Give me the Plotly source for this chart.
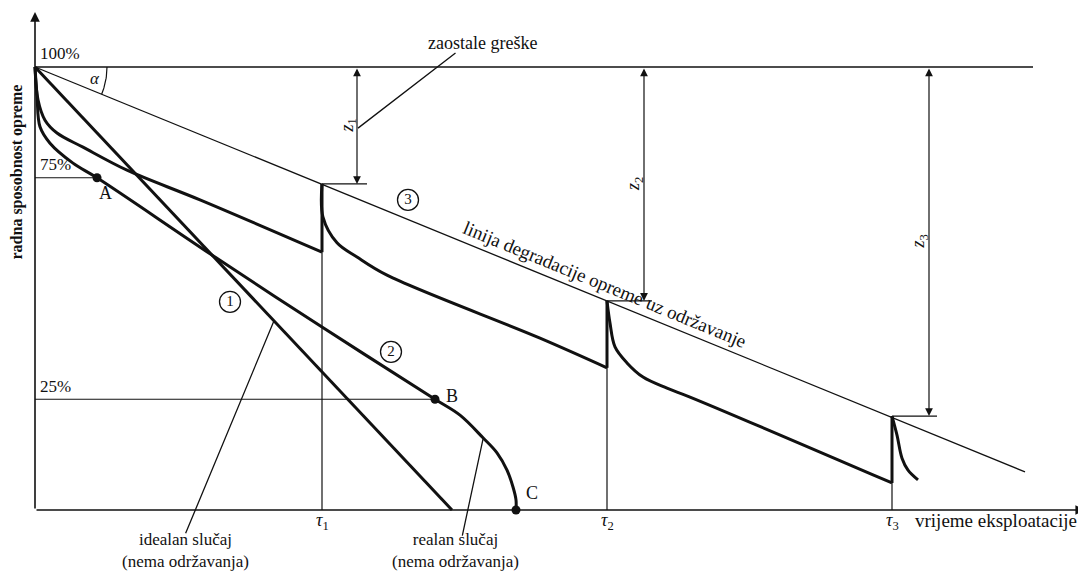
import math
import plotly.graph_objects as go

# time axis: x units, tau = maintenance moments; y = working ability in %
tau = [2.87, 5.72, 8.57]
tau_labels = ["<i>τ</i><sub>1</sub>", "<i>τ</i><sub>2</sub>", "<i>τ</i><sub>3</sub>"]

# line of degradation with maintenance and the 100% line
degr_x = [0, 9.90]
degr_y = [100, 8.6]
top_x = [0, 9.98]
top_y = [100, 100]

# (1) ideal case, no maintenance
ideal_x = [0, 4.17]
ideal_y = [100, 0]

# (2) real case, no maintenance (through A, B, C)
real_x = [0, 0.02, 0.05, 0.15, 0.38, 0.62, 1.80, 2.87, 4.00, 4.25, 4.48, 4.62, 4.72, 4.78, 4.81, 4.81]
real_y = [100, 93.5, 86.5, 82.8, 78.3, 75.0, 57.1, 41.3, 25.0, 21.4, 16.3, 12.9, 9.0, 5.2, 2.3, 0]
pts_name = ["A", "B", "C"]
pts_x = [0.62, 4.00, 4.81]
pts_y = [75, 25, 0]

# (3) with maintenance, one segment per period
seg_x = [
    [0, 0.03, 0.10, 0.22, 0.48, 0.92, 1.65, 2.87],
    [2.87, 2.88, 3.02, 3.22, 3.52, 5.05, 5.72],
    [5.72, 5.75, 5.80, 5.92, 6.08, 6.32, 6.55, 8.57],
    [8.57, 8.62, 8.67, 8.73, 8.83],
]
seg_y = [
    [100, 92.6, 88.0, 85.1, 81.9, 76.7, 70.0, 58.2],
    [73.6, 66.1, 60.3, 57.1, 53.0, 38.8, 32.1],
    [47.2, 42.2, 36.8, 33.2, 30.0, 27.5, 25.5, 6.1],
    [21.2, 16.9, 11.7, 9.0, 6.8],
]
jump_low = [58.2, 32.1, 6.1]
jump_top = [73.6, 47.2, 21.2]

# residual errors z1..z3
z_names = ["<i>z</i><sub>1</sub>", "<i>z</i><sub>2</sub>", "<i>z</i><sub>3</sub>"]
z_x = [3.22, 6.09, 8.94]
z_tick_end = [3.32, 6.17, 9.02]

ref_levels = [75, 25]
ref_ends = [0.62, 4.00]

num_text = ["1", "2", "3"]
num_x = [1.95, 3.56, 3.73]
num_y = [47.0, 35.7, 70.0]

SERIF = "Liberation Serif"
BLACK = "#111111"

fig = go.Figure()


def line(x, y, w, shape="linear"):
    fig.add_trace(go.Scatter(x=x, y=y, mode="lines", line=dict(color=BLACK, width=w, shape=shape),
                             hoverinfo="skip", showlegend=False, cliponaxis=False))


line(top_x, top_y, 1.5)
line(degr_x, degr_y, 1.3)
for lv, xe in zip(ref_levels, ref_ends):
    line([0, xe], [lv, lv], 1.2)
for t, top, xe in zip(tau, jump_top, z_tick_end):
    line([t, t], [0, top], 1.2)
    line([t, xe], [top, top], 1.2)

line(ideal_x, ideal_y, 3)
line(real_x, real_y, 3, "spline")
for sx, sy in zip(seg_x, seg_y):
    line(sx, sy, 3, "spline")
for t, lo, hi in zip(tau, jump_low, jump_top):
    line([t, t], [lo, hi], 3)

# angle alpha arc
ang = math.atan(9.236 * 4.43 / 100)
arc_t = [ang * i / 20 for i in range(21)]
line([0.72 * math.cos(a) for a in arc_t], [100 - 72 * math.sin(a) / 4.43 for a in arc_t], 1.2)

fig.add_trace(go.Scatter(x=pts_x, y=pts_y, mode="markers", marker=dict(color=BLACK, size=9),
                         hoverinfo="skip", showlegend=False, cliponaxis=False))
fig.add_trace(go.Scatter(x=num_x, y=num_y, mode="markers+text", text=num_text,
                         textposition="middle center",
                         textfont=dict(family=SERIF, size=15, color=BLACK),
                         marker=dict(symbol="circle-open", size=21, color=BLACK, line=dict(width=1.3)),
                         hoverinfo="skip", showlegend=False))

ann = []
# axes with arrows
ann.append(dict(x=0, y=112.4, ax=0, ay=0, xref="x", yref="y", axref="x", ayref="y", text="",
                showarrow=True, arrowhead=2, arrowsize=1.2, arrowwidth=1.6, arrowcolor=BLACK))
ann.append(dict(x=10.5, y=0, ax=0, ay=0, xref="x", yref="y", axref="x", ayref="y", text="",
                showarrow=True, arrowhead=2, arrowsize=1.2, arrowwidth=1.6, arrowcolor=BLACK))
# z arrows and labels
for zx, top, zn in zip(z_x, jump_top, z_names):
    ann.append(dict(x=zx, y=top, ax=zx, ay=100, xref="x", yref="y", axref="x", ayref="y", text="",
                    showarrow=True, arrowhead=2, startarrowhead=2, arrowside="end+start",
                    arrowsize=1.3, arrowwidth=1.2, arrowcolor=BLACK))
    ann.append(dict(x=zx - 0.09, y=(100 + top) / 2, xref="x", yref="y", text=zn, textangle=-90,
                    showarrow=False, font=dict(family=SERIF, size=18, color=BLACK)))
# tau labels under the time axis
for t, tl in zip(tau, tau_labels):
    ann.append(dict(x=t, y=-2.6, text=tl, showarrow=False, font=dict(family=SERIF, size=18, color=BLACK)))
# leader lines
for (x0, y0, x1, y1) in [(3.23, 86.2, 4.22, 103.4), (2.39, 42.7, 1.50, -5.6), (4.48, 16.0, 4.27, -6.1)]:
    ann.append(dict(x=x0, y=y0, ax=x1, ay=y1, xref="x", yref="y", axref="x", ayref="y", text="",
                    showarrow=True, arrowhead=0, arrowwidth=1.3, arrowcolor=BLACK))

txt = dict(family=SERIF, size=17, color=BLACK)
big = dict(family=SERIF, size=18, color=BLACK)
ann += [
    dict(x=4.47, y=105.5, text="zaostale greške", showarrow=False, font=big),
    dict(x=0.03, y=100.5, text="100%", xanchor="left", yanchor="bottom", showarrow=False, font=txt),
    dict(x=0.03, y=75.3, text="75%", xanchor="left", yanchor="bottom", showarrow=False, font=txt),
    dict(x=0.03, y=25.3, text="25%", xanchor="left", yanchor="bottom", showarrow=False, font=txt),
    dict(x=0.60, y=97.4, text="<i>α</i>", showarrow=False, font=txt),
    dict(x=0.70, y=71.5, text=pts_name[0], showarrow=False, font=big),
    dict(x=4.17, y=25.8, text=pts_name[1], showarrow=False, font=big),
    dict(x=4.97, y=3.8, text=pts_name[2], showarrow=False, font=big),
    dict(x=5.70, y=51.0, text="linija degradacije opreme uz održavanje", textangle=22.3,
         showarrow=False, font=dict(family=SERIF, size=19, color=BLACK)),
    dict(x=8.78, y=-2.4, text="vrijeme eksploatacije", xanchor="left", showarrow=False,
         font=dict(family=SERIF, size=19, color=BLACK)),
    dict(x=1.50, y=-9.1, text="idealan slučaj<br>(nema održavanja)", showarrow=False, font=txt),
    dict(x=4.20, y=-9.1, text="realan slučaj<br>(nema održavanja)", showarrow=False, font=txt),
    dict(x=-0.185, y=76.3, text="<b>radna sposobnost opreme</b>", textangle=-90, showarrow=False,
         font=dict(family=SERIF, size=16, color=BLACK)),
]

# the page has an 8px body margin, so the figure is 8px smaller and the
# plot area covers the whole figure; axes are drawn by hand
fig.update_layout(
    width=1078, height=563,
    margin=dict(l=0, r=0, t=0, b=0),
    paper_bgcolor="white", plot_bgcolor="white",
    annotations=ann,
    xaxis=dict(range=[-0.27, 10.51], showgrid=False, zeroline=False, showline=False,
               showticklabels=False),
    yaxis=dict(range=[-13.77, 113.32], showgrid=False, zeroline=False, showline=False,
               showticklabels=False),
)

fig.write_html("out.html")
